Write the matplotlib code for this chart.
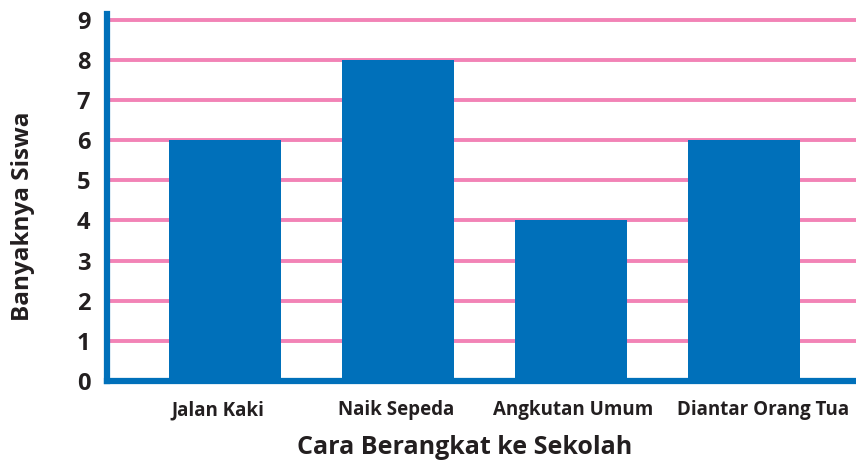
import matplotlib.pyplot as plt
from matplotlib.transforms import ScaledTranslation

plt.rcParams["font.family"] = ["Open Sans", "DejaVu Sans"]

categories = ["Jalan Kaki", "Naik Sepeda", "Angkutan Umum", "Diantar Orang Tua"]
students = [6, 8, 4, 6]
y_ticks = list(range(0, 10))

BLUE = "#0070BA"
PINK = "#F283B6"
INK = "#231F20"

fig = plt.figure(figsize=(8.56, 4.63), dpi=100)
ax = fig.add_axes([0.125, 0.177, 0.875, 0.793])

xs = range(len(categories))
ax.bar(xs, students, width=0.65, color=BLUE, zorder=3)

# pink guide lines for every value above zero
for v in y_ticks[1:]:
    ax.axhline(v, color=PINK, linewidth=2.8, zorder=1)

ax.set_xlim(-0.682, 3.647)
ax.set_ylim(0, 9.14)

for side in ("top", "right"):
    ax.spines[side].set_visible(False)
for side in ("left", "bottom"):
    ax.spines[side].set_color(BLUE)
    ax.spines[side].set_linewidth(4.5)
    ax.spines[side].set_zorder(4)

ax.set_yticks(y_ticks)
ax.set_yticklabels([str(v) for v in y_ticks], fontsize=17, fontweight="bold", color=INK)
ax.set_xticks(list(xs))
ax.set_xticklabels(categories, fontsize=13.5, fontweight="bold", color=INK)
ax.tick_params(axis="both", length=0)
ax.tick_params(axis="y", pad=12)
ax.tick_params(axis="x", pad=14)

# small horizontal nudges (in points) for the category names
nudges = [-5, -1.5, 1.5, 14]
for lbl, dx in zip(ax.get_xticklabels(), nudges):
    lbl.set_transform(lbl.get_transform() + ScaledTranslation(dx / 72, 0, fig.dpi_scale_trans))

ax.set_xlabel("Cara Berangkat ke Sekolah", fontsize=18, fontweight="bold", color=INK)
ax.set_ylabel("Banyaknya Siswa", fontsize=17.5, fontweight="bold", color=INK)
ax.xaxis.set_label_coords(0.477, -0.148)
ax.yaxis.set_label_coords(-0.096, 0.45)

fig.savefig("out.png", dpi=100)
